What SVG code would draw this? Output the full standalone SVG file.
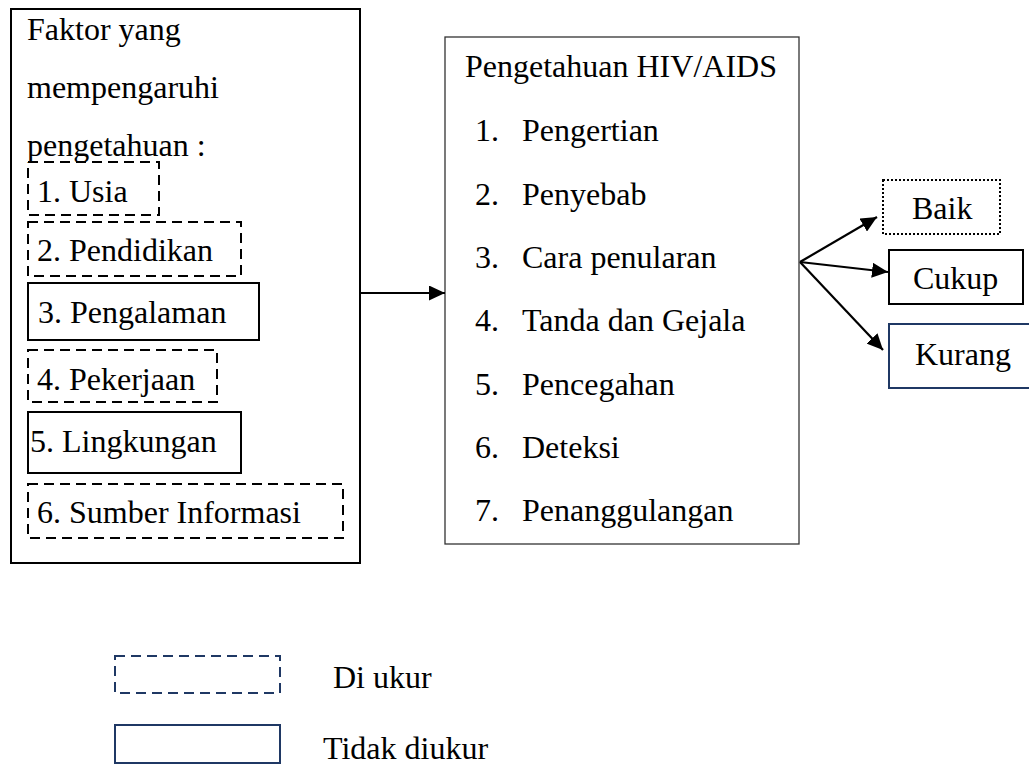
<svg xmlns="http://www.w3.org/2000/svg" width="1029" height="765" viewBox="0 0 1029 765">
<style>
text{font-family:"Liberation Serif","DejaVu Serif",serif;font-size:32px;fill:#000}
.outer{fill:#fff;stroke:#000;stroke-width:2}
.dash{fill:none;stroke:#000;stroke-width:2;stroke-dasharray:10 6}
.solid{fill:none;stroke:#000;stroke-width:2}
.mid{fill:#fff;stroke:#333;stroke-width:1.3}
.dot{fill:none;stroke:#000;stroke-width:2;stroke-dasharray:2 2}
.navy{fill:none;stroke:#1f3864;stroke-width:2}
.navydash{fill:none;stroke:#1f3864;stroke-width:2;stroke-dasharray:10 6}
.conn{fill:none;stroke:#000;stroke-width:2.2;marker-end:url(#ah)}
</style>
<defs>
<marker id="ah" markerUnits="userSpaceOnUse" markerWidth="17" markerHeight="15" refX="16" refY="7.5" orient="auto">
<path d="M0,0 L16,7.5 L0,15 z" fill="#000"/>
</marker>
</defs>
<rect width="1029" height="765" fill="#fff"/>

<g id="faktor">
<rect class="outer" x="11" y="9" width="349" height="554"/>
<text x="27" y="40">Faktor yang</text>
<text x="27" y="98">mempengaruhi</text>
<text x="27" y="156">pengetahuan :</text>
</g>
<g id="usia">
<rect class="dash" x="28" y="162" width="131" height="53"/>
<text x="37" y="202">1. Usia</text>
</g>
<g id="pendidikan">
<rect class="dash" x="28" y="222" width="213" height="54"/>
<text x="37" y="261">2. Pendidikan</text>
</g>
<g id="pengalaman">
<rect class="solid" x="28" y="283" width="231" height="57"/>
<text x="38" y="323">3. Pengalaman</text>
</g>
<g id="pekerjaan">
<rect class="dash" x="28" y="350" width="189" height="52"/>
<text x="37" y="390">4. Pekerjaan</text>
</g>
<g id="lingkungan">
<rect class="solid" x="28" y="412" width="213" height="61"/>
<text x="30" y="452">5. Lingkungan</text>
</g>
<g id="sumber">
<rect class="dash" x="28" y="484" width="315" height="54"/>
<text x="37" y="523">6. Sumber Informasi</text>
</g>

<g id="pengetahuan">
<rect class="mid" x="445" y="37" width="354" height="507"/>
<text x="465" y="77">Pengetahuan HIV/AIDS</text>
<text x="475" y="141">1.</text><text x="522" y="141">Pengertian</text>
<text x="475" y="205">2.</text><text x="522" y="205">Penyebab</text>
<text x="475" y="268">3.</text><text x="522" y="268">Cara penularan</text>
<text x="475" y="331">4.</text><text x="522" y="331">Tanda dan Gejala</text>
<text x="475" y="395">5.</text><text x="522" y="395">Pencegahan</text>
<text x="475" y="458">6.</text><text x="522" y="458">Deteksi</text>
<text x="475" y="521">7.</text><text x="522" y="521">Penanggulangan</text>
</g>

<g id="baik">
<rect class="dot" x="883" y="180" width="117" height="54"/>
<text x="912" y="219">Baik</text>
</g>
<g id="cukup">
<rect class="solid" x="889" y="250" width="134" height="54"/>
<text x="913" y="289">Cukup</text>
</g>
<g id="kurang">
<rect class="navy" x="889" y="324" width="150" height="64"/>
<text x="915" y="365">Kurang</text>
</g>

<g id="connectors">
<line class="conn" x1="360" y1="293" x2="445" y2="293"/>
<line class="conn" x1="800" y1="262" x2="877" y2="217"/>
<line class="conn" x1="800" y1="262" x2="888" y2="272"/>
<line class="conn" x1="800" y1="262" x2="883" y2="350"/>
</g>

<g id="legend">
<rect class="navydash" x="115" y="656" width="165" height="37"/>
<text x="333" y="688">Di ukur</text>
<rect class="navy" x="115" y="725" width="165" height="38"/>
<text x="323" y="759">Tidak diukur</text>
</g>
</svg>
